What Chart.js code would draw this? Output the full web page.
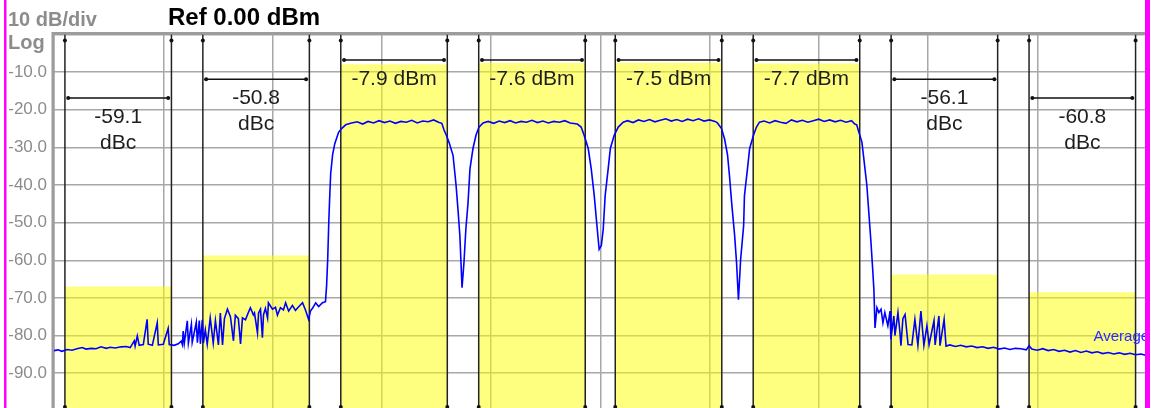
<!DOCTYPE html>
<html>
<head>
<meta charset="utf-8">
<script src="https://cdn.jsdelivr.net/npm/chart.js@4.4.1/dist/chart.umd.min.js"></script>
<style>
  html, body { margin: 0; padding: 0; background: #fff; overflow: hidden; }
  canvas { display: block; }
</style>
</head>
<body>
<canvas id="acp" width="1151" height="428"></canvas>
<script>
// integration bands (MHz offset from centre) and their results
const bandCenters = [-17.65, -12.6, -7.55, -2.5, 2.5, 7.55, 12.6, 17.65];
const bandWidth = 3.9;
const bandValues = [-59.1, -50.8, -7.9, -7.6, -7.5, -7.7, -56.1, -60.8];
const bandUnits = ['dBc', 'dBc', 'dBm', 'dBm', 'dBm', 'dBm', 'dBc', 'dBc'];
const bandRefCarrier = [2, 2, null, null, null, null, 5, 5];
const bracketLevels = [-16.9, -11.9, -6.8, -6.8, -6.8, -6.8, -11.9, -16.9];

// y ticks
const yTicks = [0, -10, -20, -30, -40, -50, -60, -70, -80, -90, -100];

// spectrum trace
const traceMHz = [
  -20.00, -19.85, -19.71, -19.52, -19.34, -19.16, -18.97, -18.83, -18.64, -18.46,
  -18.28, -18.09, -17.94, -17.76, -17.54, -17.36, -17.21, -17.06, -17.03, -16.95,
  -16.88, -16.73, -16.59, -16.55, -16.40, -16.22, -16.18, -16.00, -15.82, -15.78,
  -15.60, -15.45, -15.34, -15.30, -15.27, -15.23, -15.12, -15.08, -14.97, -14.94,
  -14.86, -14.79, -14.75, -14.68, -14.64, -14.57, -14.53, -14.46, -14.39, -14.28,
  -14.17, -14.09, -13.98, -13.91, -13.83, -13.76, -13.65, -13.54, -13.43, -13.36,
  -13.25, -13.17, -13.10, -12.99, -12.88, -12.81, -12.70, -12.66, -12.55, -12.51,
  -12.44, -12.37, -12.33, -12.26, -12.18, -12.15, -12.00, -11.89, -11.82, -11.71,
  -11.60, -11.52, -11.41, -11.27, -11.16, -11.05, -10.90, -10.79, -10.68, -10.61,
  -10.53, -10.42, -10.31, -10.17, -10.06, -10.02, -9.98, -9.94, -9.91, -9.87,
  -9.80, -9.72, -9.65, -9.58, -9.47, -9.32, -9.14,
  -8.9, -8.7, -8.5, -8.3, -8.1, -7.9, -7.7, -7.5, -7.3, -7.1, -6.9, -6.7, -6.5, -6.3, -6.1, -5.9, -5.80,
  -5.72, -5.65, -5.54, -5.39, -5.28, -5.21, -5.14, -5.06, -4.99, -4.92, -4.84, -4.77, -4.66, -4.55, -4.44, -4.29,
  -4.1, -3.9, -3.7, -3.5, -3.3, -3.1, -2.9, -2.7, -2.5, -2.3, -2.1, -1.9, -1.7, -1.5, -1.3, -1.1, -0.84,
  -0.70, -0.59, -0.44, -0.33, -0.22, -0.11, -0.04, 0.04, 0.11, 0.18, 0.29, 0.37, 0.51, 0.66, 0.84,
  1.0, 1.2, 1.4, 1.6, 1.8, 2.0, 2.2, 2.4, 2.6, 2.8, 3.0, 3.2, 3.4, 3.6, 3.8, 4.0, 4.2, 4.29,
  4.44, 4.55, 4.66, 4.73, 4.81, 4.92, 4.99, 5.06, 5.14, 5.25, 5.28, 5.39, 5.47, 5.61, 5.72, 5.83,
  6.0, 6.2, 6.4, 6.6, 6.8, 7.0, 7.2, 7.4, 7.6, 7.8, 8.0, 8.2, 8.4, 8.6, 8.8, 9.0, 9.2, 9.32,
  9.39, 9.47, 9.58, 9.65, 9.76, 9.83, 9.91, 9.98, 10.02, 10.06, 10.13, 10.20, 10.28, 10.35, 10.42,
  10.53, 10.61, 10.64, 10.75, 10.79, 10.90, 10.97, 11.01, 11.08, 11.16, 11.27, 11.41, 11.52, 11.63,
  11.74, 11.85, 11.96, 12.04, 12.22, 12.26, 12.40, 12.44, 12.59, 12.66,
  12.8, 13.0, 13.2, 13.4, 13.6, 13.8, 14.0, 14.2, 14.4, 14.6, 14.8, 15.0, 15.2, 15.4, 15.6, 15.7,
  15.8, 16.0, 16.2, 16.4, 16.6, 16.8, 17.0, 17.2, 17.4, 17.6, 17.8, 18.0, 18.2, 18.4, 18.6, 18.8,
  19.0, 19.2, 19.4, 19.6, 19.8, 20.0
];
const traceDbm = [
  -84.0, -83.8, -84.2, -83.7, -83.9, -83.5, -83.2, -83.6, -83.4, -83.5,
  -83.0, -83.4, -83.1, -83.3, -83.0, -82.9, -83.2, -81.4, -82.8, -80.1,
  -82.6, -82.4, -75.7, -82.3, -82.6, -76.6, -82.5, -82.3, -78.1, -82.4,
  -82.6, -82.2, -81.5, -82.4, -78.8, -82.1, -76.1, -82.0, -77.0, -81.8,
  -79.0, -76.5, -81.9, -76.0, -82.2, -75.8, -82.0, -78.5, -82.3, -75.3,
  -82.0, -76.0, -82.5, -74.0, -82.5, -75.5, -73.0, -75.0, -81.4, -74.6,
  -75.5, -82.2, -75.3, -75.8, -73.8, -72.6, -74.5, -74.0, -79.3, -74.0,
  -73.0, -80.6, -74.5, -72.8, -75.4, -71.3, -73.0, -72.5, -74.6, -72.6,
  -73.2, -71.3, -73.5, -72.0, -73.3, -72.4, -71.3, -73.3, -75.7, -73.5,
  -72.7, -71.3, -72.3, -71.3, -71.0, -66.8, -60.0, -50.0, -44.0, -37.0,
  -32.0, -29.0, -27.5, -26.0, -25.0, -24.0, -23.6,
  -23.2, -23.8, -23.1, -23.5, -22.9, -23.4, -23.0, -23.6, -23.1, -23.3, -22.8, -23.5, -23.0, -23.2, -22.7, -23.4, -23.6,
  -25.4, -26.5, -28.6, -32.1, -40.0, -46.4, -53.4, -67.3, -60.6, -51.7, -44.6, -35.7, -30.3, -26.8, -24.6, -23.5,
  -23.1, -23.6, -23.0, -23.4, -22.9, -23.5, -23.1, -23.3, -22.8, -23.4, -23.0, -23.5, -23.1, -23.3, -22.9, -23.5, -23.8,
  -24.6, -26.8, -30.3, -35.7, -42.8, -51.7, -57.1, -56.1, -51.7, -42.8, -35.7, -30.3, -26.8, -24.6, -23.3,
  -22.9, -23.4, -22.7, -23.1, -22.6, -23.2, -22.8, -22.4, -23.0, -22.6, -23.1, -22.5, -22.9, -22.4, -23.0, -22.7, -23.1, -23.5,
  -25.0, -27.7, -32.0, -37.4, -44.6, -53.4, -60.6, -70.5, -59.8, -50.8, -42.8, -35.7, -30.3, -26.8, -24.6, -23.3,
  -23.0, -23.5, -22.9, -23.3, -23.6, -22.7, -23.2, -22.8, -23.3, -22.9, -22.5, -23.1, -22.7, -23.2, -22.8, -23.3, -22.9, -23.8,
  -24.0, -26.0, -28.6, -33.0, -40.0, -47.0, -55.0, -63.0, -68.0, -78.0, -72.6, -73.9, -73.0, -76.6, -73.9,
  -77.4, -73.5, -81.0, -74.8, -80.0, -73.9, -79.0, -82.7, -75.5, -74.4, -82.4, -82.5, -75.7, -82.6,
  -73.5, -82.6, -77.4, -82.4, -76.0, -82.5, -74.8, -82.7, -75.7, -82.8,
  -82.5, -82.9, -82.6, -83.0, -82.8, -83.2, -83.0, -83.4, -83.1, -83.6, -83.3, -83.7, -83.4, -83.5, -83.8, -82.7,
  -83.6, -83.9, -83.5, -84.0, -83.7, -84.2, -83.9, -84.4, -84.0, -84.5, -84.1, -84.6, -84.3, -84.8, -84.5, -84.9,
  -84.6, -85.0, -84.7, -85.1, -84.9, -85.3
];

const FONT = '"Liberation Sans", Arial, sans-serif';

function bandLevel(i) {
  if (bandUnits[i] === 'dBm') return bandValues[i];
  return bandValues[bandRefCarrier[i]] + bandValues[i];
}

const fillSets = bandCenters.map((c, i) => ({
  data: [{ x: c - bandWidth / 2, y: bandLevel(i) }, { x: c + bandWidth / 2, y: bandLevel(i) }],
  showLine: true,
  borderWidth: 0,
  pointRadius: 0,
  fill: 'start',
  backgroundColor: 'rgba(255,255,0,0.5)',
  order: 3
}));

const edgeLines = [], edgeDots = [], brackets = [];
bandCenters.forEach((c, i) => {
  const lo = c - bandWidth / 2, hi = c + bandWidth / 2;
  [lo, hi].forEach(e => {
    edgeLines.push({ x: e, y: 0 }, { x: e, y: -100 }, { x: e, y: null });
    edgeDots.push({ x: e, y: -1.6 }, { x: e, y: -99 });
  });
  brackets.push({ x: lo + 0.12, y: bracketLevels[i] }, { x: hi - 0.12, y: bracketLevels[i] }, { x: hi, y: null });
});

const trace = traceMHz.map((f, i) => ({ x: f, y: traceDbm[i] }));

const decor = {
  id: 'decor',
  beforeDatasetsDraw(chart) {
    const { ctx, chartArea: a } = chart;
    ctx.save();
    ctx.strokeStyle = '#9c9c9c';
    ctx.lineWidth = 3;
    ctx.beginPath();
    ctx.moveTo(a.left - 1, a.bottom);
    ctx.lineTo(a.left - 1, a.top - 1);
    ctx.lineTo(a.right, a.top - 1);
    ctx.stroke();
    ctx.restore();
  },
  afterDatasetsDraw(chart) {
    const { ctx, scales: { x, y }, chartArea: a } = chart;
    ctx.save();
    ctx.fillStyle = '#1e1e1e';
    ctx.font = '21px ' + FONT;
    ctx.textAlign = 'center';
    ctx.textBaseline = 'middle';
    bandCenters.forEach((c, i) => {
      const px = x.getPixelForValue(c);
      const py = y.getPixelForValue(bracketLevels[i]) + 19;
      if (bandUnits[i] === 'dBm') {
        ctx.fillText(bandValues[i].toFixed(1) + ' dBm', px, py);
      } else {
        ctx.fillText(bandValues[i].toFixed(1), px, py);
        ctx.fillText('dBc', px, py + 26);
      }
    });
    ctx.fillStyle = '#2a2aff';
    ctx.font = '15px ' + FONT;
    ctx.textAlign = 'left';
    ctx.fillText('Average', a.right - 53, y.getPixelForValue(-80.4));
    ctx.restore();
  },
  afterDraw(chart) {
    const { ctx, height } = chart;
    ctx.save();
    ctx.textBaseline = 'middle';
    ctx.fillStyle = '#8c8c8c';
    ctx.font = 'bold 20px ' + FONT;
    ctx.fillText('10 dB/div', 8, 20);
    ctx.fillText('Log', 8, 43);
    ctx.fillStyle = '#000';
    ctx.font = 'bold 24px ' + FONT;
    ctx.fillText('Ref 0.00 dBm', 168, 18);
    ctx.fillStyle = '#ff00ff';
    ctx.fillRect(4, 0, 2.5, height);
    ctx.fillRect(1145, 0, 5, height);
    ctx.restore();
  }
};

new Chart(document.getElementById('acp'), {
  type: 'scatter',
  data: {
    datasets: [
      { data: trace, showLine: true, borderColor: '#0000ff', borderWidth: 1.6, pointRadius: 0, order: 0 },
      { data: brackets, showLine: true, spanGaps: false, borderColor: '#111', borderWidth: 1.5,
        pointRadius: 2, pointBackgroundColor: '#111', pointBorderWidth: 0, order: 1 },
      { data: edgeDots, showLine: false, pointRadius: 2, pointBackgroundColor: '#111', pointBorderWidth: 0, order: 1 },
      { data: edgeLines, showLine: true, spanGaps: false, borderColor: '#222', borderWidth: 1.5, pointRadius: 0, order: 2 },
      ...fillSets
    ]
  },
  options: {
    responsive: false,
    animation: false,
    events: [],
    layout: { padding: { top: 34.5, right: 4.5, bottom: 0, left: 0 } },
    plugins: { legend: { display: false }, tooltip: { enabled: false } },
    scales: {
      x: {
        type: 'linear', min: -20, max: 20,
        ticks: { display: false, stepSize: 4 },
        grid: { color: '#a8a8a8', lineWidth: 1.5, drawTicks: false },
        border: { display: false },
        afterFit: s => { s.height = 0; }
      },
      y: {
        type: 'linear', min: -100, max: 0,
        afterBuildTicks: s => { s.ticks = yTicks.map(v => ({ value: v })); },
        ticks: {
          color: '#8c8c8c',
          font: { family: FONT, size: 17 },
          padding: 7,
          callback: v => (v === 0 || v === -100) ? '' : v.toFixed(1)
        },
        grid: { color: '#a8a8a8', lineWidth: 1.5, drawTicks: false },
        border: { display: false },
        afterFit: s => { s.width = 54; }
      }
    }
  },
  plugins: [decor]
});
</script>
</body>
</html>
